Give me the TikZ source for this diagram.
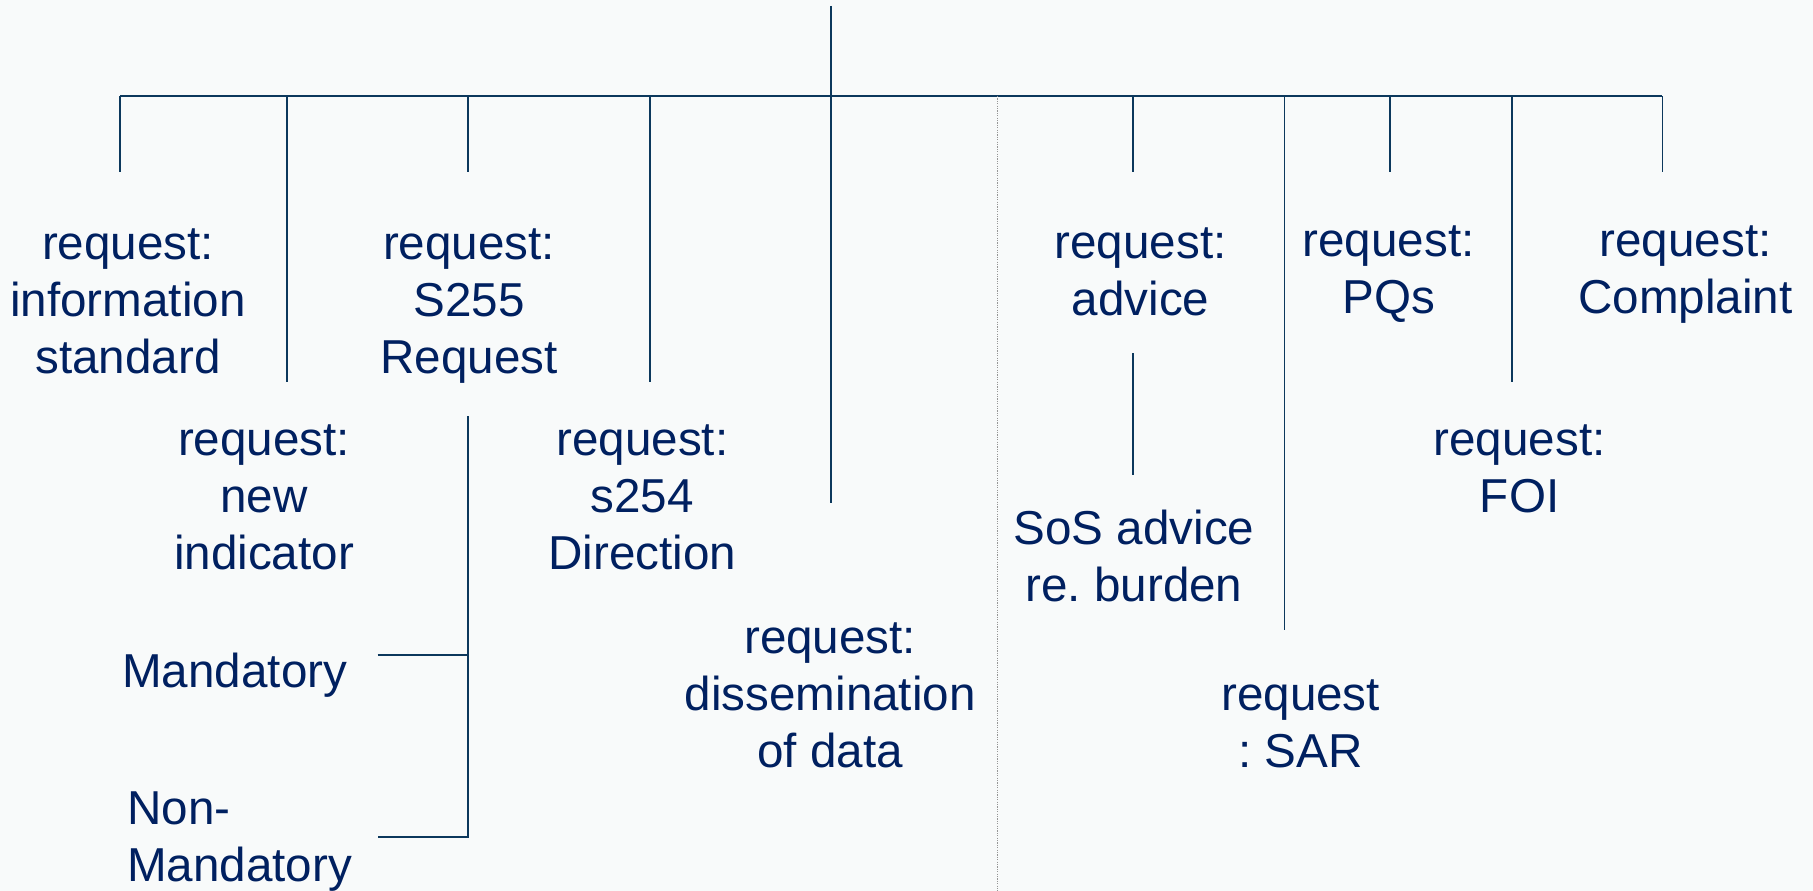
\documentclass[tikz,border=0pt]{standalone}
\usepackage{fontspec}
\setmainfont{Liberation Sans}
\frenchspacing
\definecolor{txt}{RGB}{0,32,96}
\definecolor{ln}{RGB}{12,56,92}
\definecolor{bgc}{RGB}{248,250,250}
\definecolor{dotc}{RGB}{150,150,150}
\begin{document}
\begin{tikzpicture}[x=1pt,y=-1pt,
  lbl/.style={font=\fontsize{47.6}{57}\selectfont, text=txt, align=center, inner sep=0pt, anchor=base},
  conn/.style={draw=ln, line width=1.8pt},
  barline/.style={draw=ln, line width=2.3pt},
  sepline/.style={draw=dotc, line width=1pt, dash pattern=on 1.2pt off 1.2pt}]
\fill[bgc] (0,0) rectangle (1813,891);
\useasboundingbox (0,0) rectangle (1813,891);

% trunk and bar
\coordinate (top) at (831.2,5.8);
\coordinate (hub) at (831.2,96);
\coordinate (bl) at (120.2,96);
\coordinate (br) at (1662.4,96);
\draw[conn] (top) -- (hub);
\draw[barline] (bl) -- (br);

% drop coordinates
\coordinate (d1a) at (120.2,96);  \coordinate (d1b) at (120.2,171.5);
\coordinate (d2a) at (286.7,96);  \coordinate (d2b) at (286.7,381.6);
\coordinate (d3a) at (468.3,96);  \coordinate (d3b) at (468.3,171.5);
\coordinate (d4a) at (649.7,96);  \coordinate (d4b) at (649.7,381.6);
\coordinate (d5a) at (831.2,96);  \coordinate (d5b) at (831.2,503);
\coordinate (d6a) at (1133,96);   \coordinate (d6b) at (1133,171.5);
\coordinate (d7a) at (1284.4,96); \coordinate (d7b) at (1284.4,630);
\coordinate (d8a) at (1389.6,96); \coordinate (d8b) at (1389.6,171.5);
\coordinate (d9a) at (1512.2,96); \coordinate (d9b) at (1512.2,382);
\coordinate (d10a) at (1662.4,96); \coordinate (d10b) at (1662.4,171.5);
\foreach \i in {1,...,10} {\draw[conn] (d\i a) -- (d\i b);}

% dotted separator
\coordinate (sepa) at (997.7,96);
\coordinate (sepb) at (997.7,891);
\draw[sepline] (sepa) -- (sepb);

% S255 sub-branches
\coordinate (sta) at (468.3,416.3);
\coordinate (stm) at (468.3,655);
\coordinate (stb) at (468.3,836.7);
\coordinate (me) at (377.7,655);
\coordinate (nme) at (377.7,836.7);
\draw[conn] (sta) -- (stb) -- (nme);
\draw[conn] (me) -- (stm);

% advice sub-branch
\coordinate (ava) at (1133,353.3);
\coordinate (avb) at (1133,475);
\draw[conn] (ava) -- (avb);

% labels
\node[lbl] (info) at (128,373.3) {request:\\information\\standard};
\node[lbl] (s255) at (469,373.3) {request:\\S255\\Request};
\node[lbl] (newind) at (264,569.3) {request:\\new\\indicator};
\node[lbl] (s254) at (642.3,569.3) {request:\\s254\\Direction};
\node[lbl] (dissem) at (830.2,767) {request:\\dissemination\\of data};
\node[lbl] (mand) at (234.7,687.3) {Mandatory};
\node[lbl, anchor=base west, align=left] (nonmand) at (127,881.7) {Non-\\Mandatory};
\node[lbl] (advice) at (1140.5,315.8) {request:\\advice};
\node[lbl] (sos) at (1134,601.9) {SoS advice\\re. burden};
\node[lbl] (pqs) at (1388.6,313) {request:\\PQs};
\node[lbl] (complaint) at (1685.5,313) {request:\\Complaint};
\node[lbl] (foi) at (1519.6,512) {request:\\FOI};
\node[lbl] (sar) at (1300.6,767.7) {request\\: SAR};
\end{tikzpicture}
\end{document}
